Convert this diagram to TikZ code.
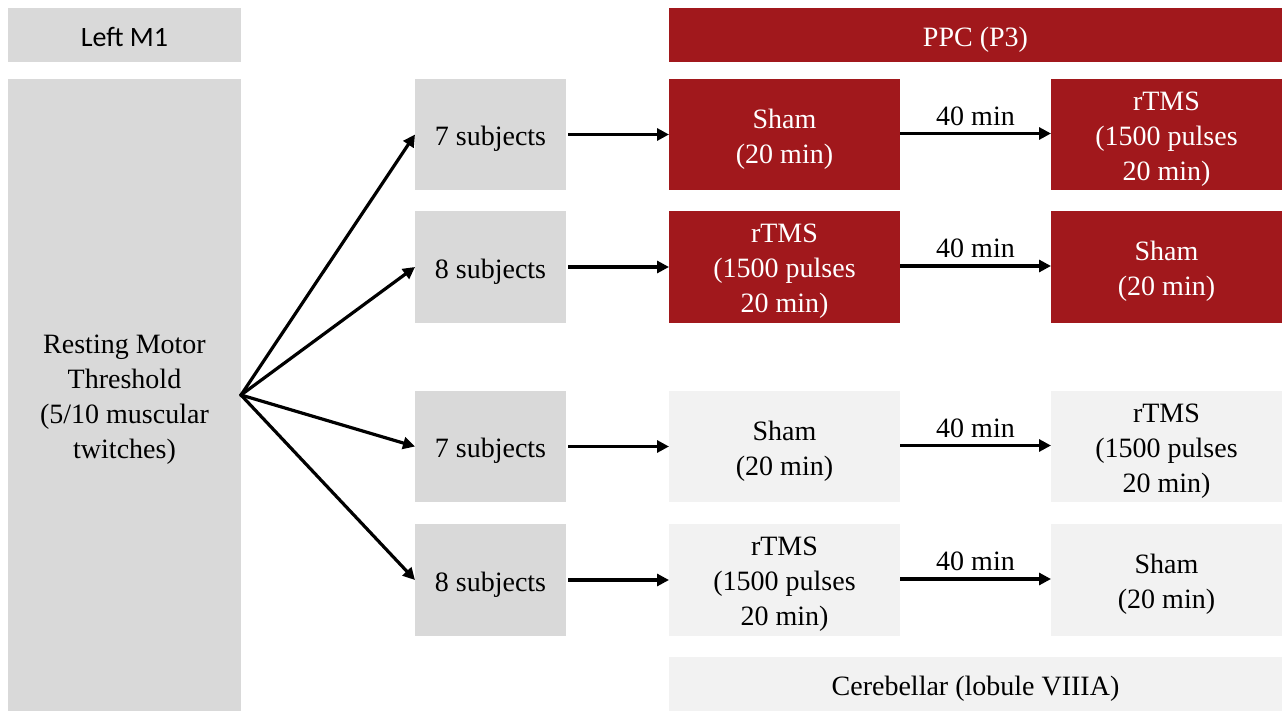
\documentclass[tikz,border=0pt]{standalone}
\usepackage{fontspec}
\setmainfont{Liberation Serif}
\newfontfamily\labelsans{Carlito}
\usetikzlibrary{arrows.meta}
\definecolor{ppcred}{RGB}{161,24,28}
\definecolor{midgray}{RGB}{217,217,217}
\definecolor{palegray}{RGB}{242,242,242}
\tikzset{
  bodyfont/.style={font=\fontsize{28}{35}\selectfont},
  celltext/.style={align=center, inner sep=0pt, yshift=-4.5pt, bodyfont},
  cell/.style={rectangle, inner sep=0pt, outer sep=0pt, anchor=north west},
  txt/.style={label={[celltext]center:{#1}}},
  whitetxt/.style={label={[celltext, text=white]center:{#1}}},
  graycell/.style={cell, fill=midgray},
  redcell/.style={cell, fill=ppcred},
  palecell/.style={cell, fill=palegray},
  flow/.style={line width=3.2pt, -{Triangle[length=12pt,width=12pt]}},
  gaplabel/.style={above, inner sep=6.5pt, bodyfont}
}
\begin{document}
\begin{tikzpicture}[x=1pt,y=-1pt]
\useasboundingbox (0,0) rectangle (1282,711);
% headers
\node[graycell, minimum width=233pt, minimum height=54pt,
  label={[celltext, yshift=2.5pt, font=\labelsans\fontsize{28}{35}\selectfont]center:Left M1}] (m1) at (8,8) {};
\node[redcell, minimum width=613pt, minimum height=54pt, whitetxt={PPC (P3)}] (ppc) at (669,8) {};
% threshold column
\node[graycell, minimum width=233pt, minimum height=632pt,
  txt={Resting Motor\\Threshold\\(5/10 muscular\\twitches)}] (rmt) at (8,79) {};
\coordinate (fan) at (241,395);
% group boxes
\node[graycell, minimum width=151pt, minimum height=111pt, txt={7 subjects}] (g1) at (415,79) {};
\node[graycell, minimum width=151pt, minimum height=112pt, txt={8 subjects}] (g2) at (415,211) {};
\node[graycell, minimum width=151pt, minimum height=111pt, txt={7 subjects}] (g3) at (415,391) {};
\node[graycell, minimum width=151pt, minimum height=112pt, txt={8 subjects}] (g4) at (415,524) {};
% first session
\node[redcell, minimum width=231pt, minimum height=111pt, whitetxt={Sham\\(20 min)}] (a1) at (669,79) {};
\node[redcell, minimum width=231pt, minimum height=112pt, whitetxt={rTMS\\(1500 pulses\\20 min)}] (a2) at (669,211) {};
\node[palecell, minimum width=231pt, minimum height=111pt, txt={Sham\\(20 min)}] (a3) at (669,391) {};
\node[palecell, minimum width=231pt, minimum height=112pt, txt={rTMS\\(1500 pulses\\20 min)}] (a4) at (669,524) {};
% second session
\node[redcell, minimum width=231pt, minimum height=111pt, whitetxt={rTMS\\(1500 pulses\\20 min)}] (b1) at (1051,79) {};
\node[redcell, minimum width=231pt, minimum height=112pt, whitetxt={Sham\\(20 min)}] (b2) at (1051,211) {};
\node[palecell, minimum width=231pt, minimum height=111pt, txt={rTMS\\(1500 pulses\\20 min)}] (b3) at (1051,391) {};
\node[palecell, minimum width=231pt, minimum height=112pt, txt={Sham\\(20 min)}] (b4) at (1051,524) {};
% footer
\node[palecell, minimum width=613pt, minimum height=54pt, txt={Cerebellar (lobule VIIIA)}] (cb) at (669,657) {};
% connectors
\foreach \g in {g1,g2,g3,g4} \draw[flow, shorten <=-1pt] (fan) -- (\g.west);
\foreach \i in {1,2,3,4} {
  \draw[flow] (g\i.east) ++(2,0) -- (a\i.west);
  \draw[flow] (a\i.east) ++(0,-1) -- node[gaplabel] {40 min} ([yshift=1pt]b\i.west);
}
\end{tikzpicture}
\end{document}
